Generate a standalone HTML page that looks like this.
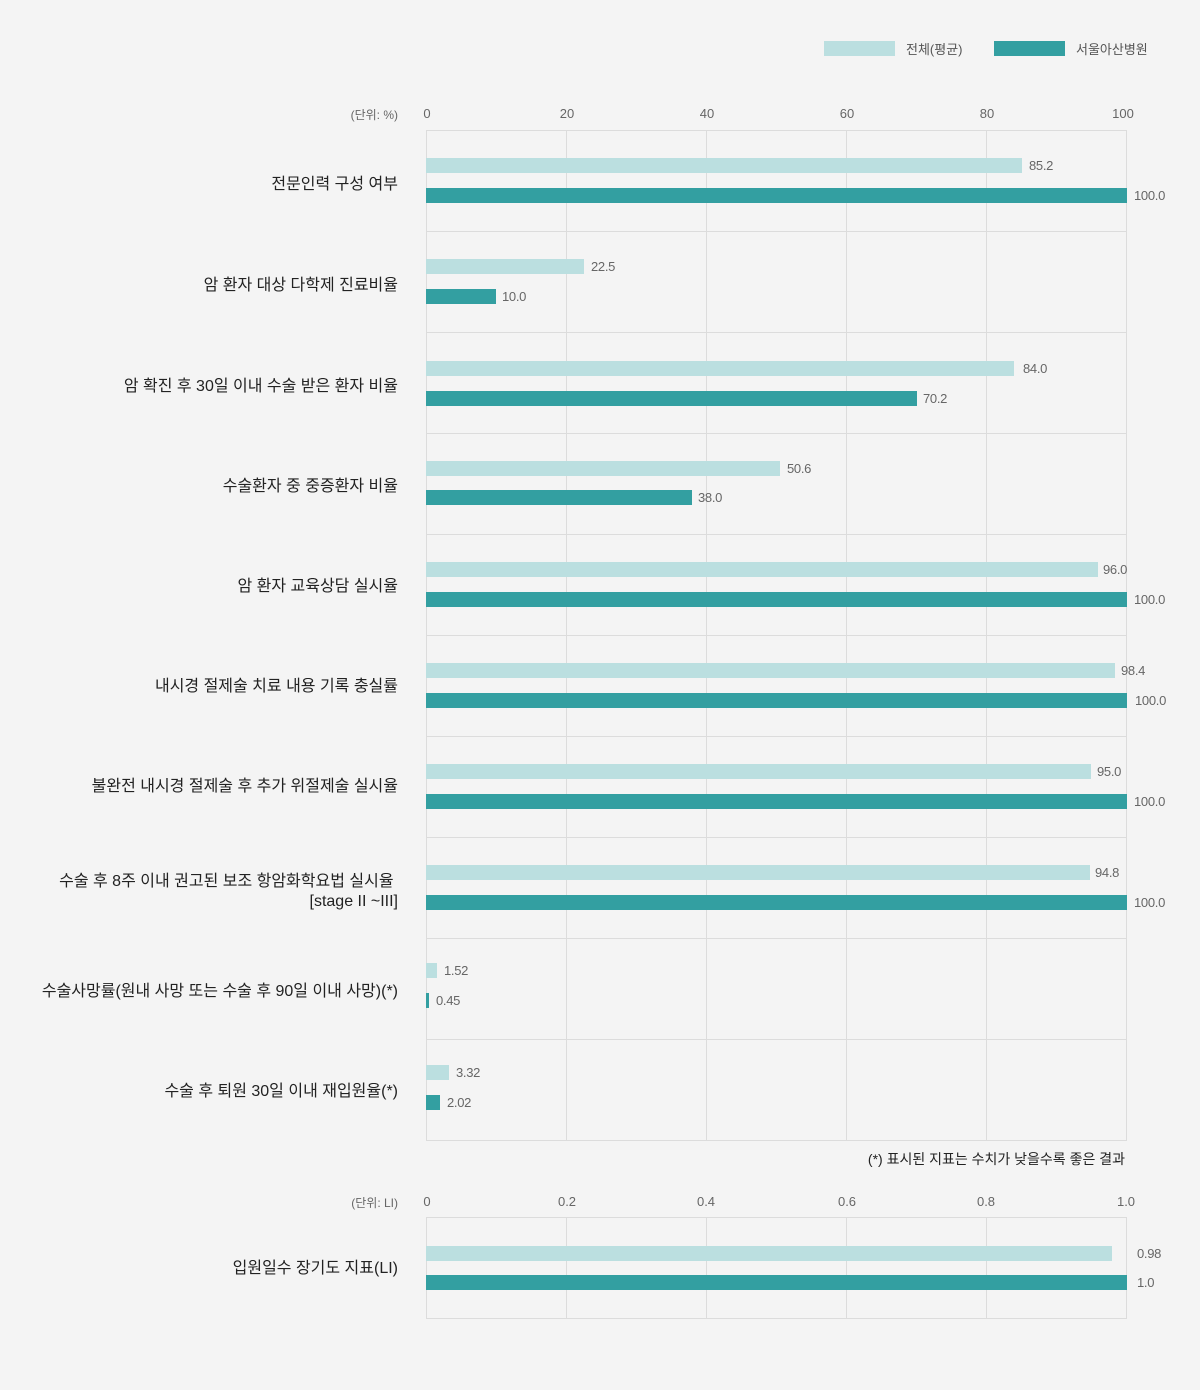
<!DOCTYPE html>
<html><head><meta charset="utf-8"><style>
body{margin:0;background:#f4f4f4;width:1200px;height:1390px;position:relative;overflow:hidden;font-family:"Liberation Sans","Noto Sans CJK KR",sans-serif}
div{position:absolute}
.g{background:#dcdcdc;width:1px}
.h{background:#dcdcdc;height:1px;left:426px;width:701px}
.a{background:#bbdfe0;height:15px;left:426px}
.b{background:#339fa1;height:15px;left:426px}
.v{font-size:13px;color:#666;line-height:15px;letter-spacing:-0.3px}
.l{right:802px;text-align:right;font-size:16px;color:#222;line-height:20px;transform:translateY(-50%);margin-top:2px;white-space:nowrap;letter-spacing:0}
.t{font-size:13px;color:#666;transform:translateX(-50%);top:106px}
.u{font-size:12px;color:#666;right:802px}
</style></head><body>
<div style="left:824px;top:41px;width:71px;height:15px;background:#bbdfe0"></div>
<div style="left:906px;top:39px;font-size:13px;color:#555">전체(평균)</div>
<div style="left:994px;top:41px;width:71px;height:15px;background:#339fa1"></div>
<div style="left:1076px;top:39px;font-size:13px;color:#555">서울아산병원</div>

<div class="u" style="top:106px">(단위: %)</div>
<div class="t" style="left:427px">0</div><div class="t" style="left:567px">20</div><div class="t" style="left:707px">40</div><div class="t" style="left:847px">60</div><div class="t" style="left:987px">80</div><div class="t" style="left:1123px">100</div>

<div class="g" style="left:426px;top:130px;height:1010px"></div>
<div class="g" style="left:566px;top:130px;height:1010px"></div>
<div class="g" style="left:706px;top:130px;height:1010px"></div>
<div class="g" style="left:846px;top:130px;height:1010px"></div>
<div class="g" style="left:986px;top:130px;height:1010px"></div>
<div class="g" style="left:1126px;top:130px;height:1010px"></div>
<div class="h" style="top:130px"></div><div class="h" style="top:231px"></div><div class="h" style="top:332px"></div><div class="h" style="top:433px"></div><div class="h" style="top:534px"></div><div class="h" style="top:635px"></div><div class="h" style="top:736px"></div><div class="h" style="top:837px"></div><div class="h" style="top:938px"></div><div class="h" style="top:1039px"></div><div class="h" style="top:1140px"></div>

<div class="l" style="top:183px">전문인력 구성 여부</div>
<div class="a" style="top:158px;width:596px"></div><div class="v" style="top:158px;left:1029px">85.2</div>
<div class="b" style="top:188px;width:701px"></div><div class="v" style="top:188px;left:1134px">100.0</div>

<div class="l" style="top:284px">암 환자 대상 다학제 진료비율</div>
<div class="a" style="top:259px;width:158px"></div><div class="v" style="top:259px;left:591px">22.5</div>
<div class="b" style="top:289px;width:70px"></div><div class="v" style="top:289px;left:502px">10.0</div>

<div class="l" style="top:385px">암 확진 후 30일 이내 수술 받은 환자 비율</div>
<div class="a" style="top:361px;width:588px"></div><div class="v" style="top:361px;left:1023px">84.0</div>
<div class="b" style="top:391px;width:491px"></div><div class="v" style="top:391px;left:923px">70.2</div>

<div class="l" style="top:485px">수술환자 중 중증환자 비율</div>
<div class="a" style="top:461px;width:354px"></div><div class="v" style="top:461px;left:787px">50.6</div>
<div class="b" style="top:490px;width:266px"></div><div class="v" style="top:490px;left:698px">38.0</div>

<div class="l" style="top:585px">암 환자 교육상담 실시율</div>
<div class="a" style="top:562px;width:672px"></div><div class="v" style="top:562px;left:1103px">96.0</div>
<div class="b" style="top:592px;width:701px"></div><div class="v" style="top:592px;left:1134px">100.0</div>

<div class="l" style="top:685px">내시경 절제술 치료 내용 기록 충실률</div>
<div class="a" style="top:663px;width:689px"></div><div class="v" style="top:663px;left:1121px">98.4</div>
<div class="b" style="top:693px;width:701px"></div><div class="v" style="top:693px;left:1135px">100.0</div>

<div class="l" style="top:785px">불완전 내시경 절제술 후 추가 위절제술 실시율</div>
<div class="a" style="top:764px;width:665px"></div><div class="v" style="top:764px;left:1097px">95.0</div>
<div class="b" style="top:794px;width:701px"></div><div class="v" style="top:794px;left:1134px">100.0</div>

<div class="l" style="top:890px">수술 후 8주 이내 권고된 보조 항암화학요법 실시율&nbsp;<br>[stage II ~III]</div>
<div class="a" style="top:865px;width:664px"></div><div class="v" style="top:865px;left:1095px">94.8</div>
<div class="b" style="top:895px;width:701px"></div><div class="v" style="top:895px;left:1134px">100.0</div>

<div class="l" style="top:990px">수술사망률(원내 사망 또는 수술 후 90일 이내 사망)(*)</div>
<div class="a" style="top:963px;width:11px"></div><div class="v" style="top:963px;left:444px">1.52</div>
<div class="b" style="top:993px;width:3px"></div><div class="v" style="top:993px;left:436px">0.45</div>

<div class="l" style="top:1090px">수술 후 퇴원 30일 이내 재입원율(*)</div>
<div class="a" style="top:1065px;width:23px"></div><div class="v" style="top:1065px;left:456px">3.32</div>
<div class="b" style="top:1095px;width:14px"></div><div class="v" style="top:1095px;left:447px">2.02</div>

<div style="right:75px;top:1149px;font-size:14px;color:#222">(*) 표시된 지표는 수치가 낮을수록 좋은 결과</div>

<div class="u" style="top:1194px">(단위: LI)</div>
<div class="t" style="left:427px;top:1194px">0</div><div class="t" style="left:567px;top:1194px">0.2</div><div class="t" style="left:706px;top:1194px">0.4</div><div class="t" style="left:847px;top:1194px">0.6</div><div class="t" style="left:986px;top:1194px">0.8</div><div class="t" style="left:1126px;top:1194px">1.0</div>
<div class="g" style="left:426px;top:1217px;height:101px"></div>
<div class="g" style="left:566px;top:1217px;height:101px"></div>
<div class="g" style="left:706px;top:1217px;height:101px"></div>
<div class="g" style="left:846px;top:1217px;height:101px"></div>
<div class="g" style="left:986px;top:1217px;height:101px"></div>
<div class="g" style="left:1126px;top:1217px;height:101px"></div>
<div class="h" style="top:1217px"></div><div class="h" style="top:1318px"></div>
<div class="l" style="top:1267px">입원일수 장기도 지표(LI)</div>
<div class="a" style="top:1246px;width:686px"></div><div class="v" style="top:1246px;left:1137px">0.98</div>
<div class="b" style="top:1275px;width:701px"></div><div class="v" style="top:1275px;left:1137px">1.0</div>
</body></html>
